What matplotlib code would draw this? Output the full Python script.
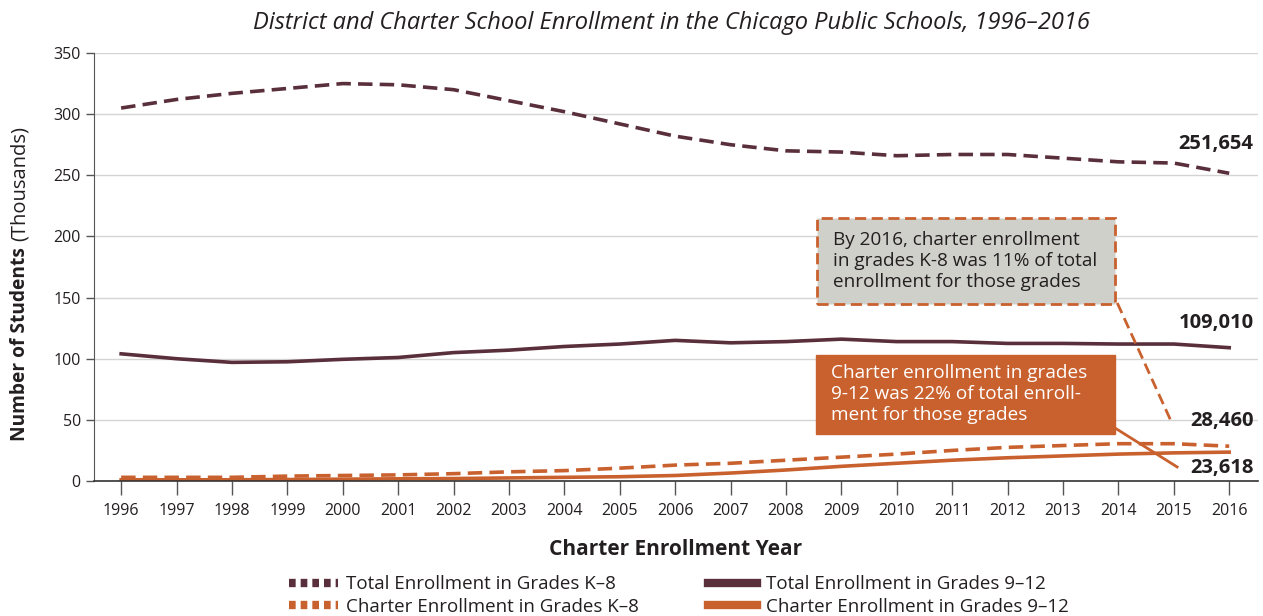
import matplotlib
matplotlib.use("Agg")
import matplotlib.pyplot as plt
from matplotlib.lines import Line2D
from matplotlib.patches import Rectangle

plt.rcParams['font.family'] = ['Open Sans', 'DejaVu Sans']

# enrollment in thousands
years = list(range(1996, 2017))
total_k8 = [305, 312, 317, 321, 325, 324, 320, 311, 302, 292, 282, 275, 270, 269,
            266, 267, 267, 264, 261, 260, 251.654]
total_912 = [104, 100, 97, 97.5, 99.5, 101, 105, 107, 110, 112, 115, 113, 114, 116,
             114, 114, 112.5, 112.5, 112, 112, 109.010]
charter_k8 = [3, 3, 3, 4, 4.5, 5, 6, 7.5, 8.5, 10.5, 13, 14.5, 17, 19.5,
              22, 25, 27.5, 29, 30.5, 30.5, 28.460]
charter_912 = [1, 1, 1, 1.2, 1.5, 1.8, 2, 2.5, 3, 3.5, 4.5, 6.5, 9, 12,
               14.5, 17, 19, 20.5, 22, 23, 23.618]
end_labels = ['251,654', '109,010', '28,460', '23,618']

dark = '#5a2f3c'
orange = '#c9612f'
text_col = '#231f20'

fig = plt.figure(figsize=(12.63, 6.16), dpi=100)
ax = fig.add_axes([94 / 1263, 1 - 481 / 616, (1258 - 94) / 1263, (481 - 53) / 616])

ax.plot(years, total_k8, color=dark, lw=2.6, dashes=(4, 2))
ax.plot(years, total_912, color=dark, lw=2.6)
ax.plot(years, charter_k8, color=orange, lw=2.6, dashes=(4, 2))
ax.plot(years, charter_912, color=orange, lw=2.6)

ax.set_xlim(1995.51, 2016.52)
ax.set_ylim(0, 350)
ax.set_yticks(range(0, 351, 50))
ax.set_xticks(years)
ax.grid(axis='y', color='#d4d4d4', lw=1)
ax.set_axisbelow(True)
for s in ['top', 'right']:
    ax.spines[s].set_visible(False)
ax.spines['left'].set_color('#555555')
ax.spines['bottom'].set_color('#333333')
ax.spines['bottom'].set_linewidth(1.2)
ax.tick_params(axis='x', length=10, width=1, color='#555555', labelsize=11.5,
               labelcolor=text_col, pad=6)
ax.tick_params(axis='y', length=6, width=1, color='#555555', labelsize=11.5,
               labelcolor=text_col)

ax.set_xlabel('Charter Enrollment Year', fontsize=15, fontweight='bold',
              color=text_col, labelpad=14)

# y label: bold part + regular part
yl1 = fig.text(0.008, 1 - 441 / 616, 'Number of Students', rotation=90, fontsize=13.8,
               fontweight='bold', color=text_col, ha='left', va='top',
               rotation_mode='anchor')
fig.canvas.draw()
bb = yl1.get_window_extent()
fig.text(0.008, (bb.y1 + 6) / fig.bbox.height, '(Thousands)', rotation=90, fontsize=14.5,
         color=text_col, ha='left', va='top', rotation_mode='anchor')

fig.text(671 / 1263, 1 - 23 / 616, 'District and Charter School Enrollment in the Chicago Public Schools, 1996\u20132016',
         ha='center', va='center', fontsize=17, style='italic', color=text_col)

# end value labels
for val, lab, dy in zip([total_k8[-1], total_912[-1], charter_k8[-1], charter_912[-1]],
                        end_labels, [21, 18, 18, -11.5]):
    ax.annotate(lab, xy=(2016, val), xytext=(17.5, dy), textcoords='offset points',
                fontsize=14.5, fontweight='bold', color=text_col, va='center', ha='right')

# callout boxes
ax.add_patch(Rectangle((2008.56, 144.7), 5.38, 70.3, fc='#d0d0cb', ec=orange, lw=2,
                       ls=(0, (4, 2)), zorder=4))
ax.text(2008.84, 180, 'By 2016, charter enrollment\nin grades K-8 was 11% of total\nenrollment for those grades',
        fontsize=13.7, color=text_col, va='center', ha='left', linespacing=1.2, zorder=5)
ax.plot([2013.98, 2014.95], [145.6, 49], color=orange, lw=2, dashes=(4, 2), zorder=4)

ax.add_patch(Rectangle((2008.54, 38.4), 5.4, 64.6, fc=orange, ec=orange, lw=1, zorder=4))
ax.text(2008.82, 71, 'Charter enrollment in grades\n9-12 was 22% of total enroll-\nment for those grades',
        fontsize=13.7, color='white', va='center', ha='left', linespacing=1.2, zorder=5)
ax.plot([2013.94, 2015.06], [43.3, 11.5], color=orange, lw=2, zorder=4)

handles = [Line2D([], [], color=dark, lw=6, dashes=(0.8, 0.6)),
           Line2D([], [], color=orange, lw=6, dashes=(0.8, 0.6)),
           Line2D([], [], color=dark, lw=6),
           Line2D([], [], color=orange, lw=6)]
labels = ['Total Enrollment in Grades K\u20138', 'Charter Enrollment in Grades K\u20138',
          'Total Enrollment in Grades 9\u201312', 'Charter Enrollment in Grades 9\u201312']
fig.legend(handles, labels, ncol=2, loc='lower left', bbox_to_anchor=(272 / 1263, -0.027),
           frameon=False, fontsize=13.5, handlelength=2.6, handletextpad=0.45,
           columnspacing=3.7, labelspacing=0.25, labelcolor=text_col)

fig.savefig('out.png', dpi=100)
